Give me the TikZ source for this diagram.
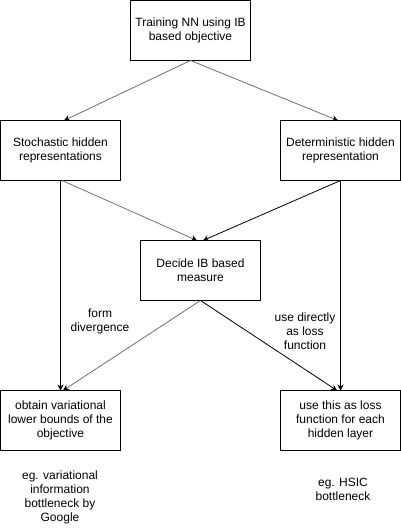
\documentclass[tikz,border=0pt]{standalone}
\usepackage{fontspec}
\setmainfont{Liberation Sans}
\usetikzlibrary{arrows.meta}
\definecolor{lgray}{RGB}{110,110,110}
\begin{document}
\begin{tikzpicture}[x=1pt,y=-1pt,
  box/.style={draw=black,line width=1pt,minimum width=120pt,minimum height=60pt,inner sep=0pt,align=center,font=\fontsize{12}{14}\selectfont},
  lbl/.style={align=center,font=\fontsize{12}{14}\selectfont,inner sep=0pt},
  arr/.style={line width=0.8pt,-{Stealth[length=6pt,width=6pt,black]}},
  garr/.style={arr,draw=lgray},
  barr/.style={arr,draw=black}]
\useasboundingbox (0,0) rectangle (401,531);
\node[box] (top) at (190.5,30.5) {Training NN using IB\\based objective};
\node[box] (sto) at (60.5,150.5) {Stochastic hidden\\representations};
\node[box] (det) at (340.5,150.5) {Deterministic hidden\\representation};
\node[box] (dec) at (200.5,270.5) {Decide IB based\\measure};
\node[box] (obt) at (60.5,420.5) {obtain variational\\lower bounds of the\\objective};
\node[box] (use) at (340.5,420.5) {use this as loss\\function for each\\hidden layer};
\coordinate (topb) at (190.5,60.5);
\coordinate (stot) at (64,120.5);
\coordinate (dett) at (338,120.5);
\coordinate (stob) at (62,180.5);
\coordinate (detb) at (340.5,180.5);
\coordinate (dectl) at (197,240.5);
\coordinate (dectr) at (203,240.5);
\coordinate (decb) at (200.5,300.5);
\coordinate (obtt) at (60.5,390.5);
\coordinate (obtt2) at (63,390.5);
\coordinate (uset) at (340.5,390.5);
\coordinate (uset2) at (337,390.5);
\draw[garr] (topb) -- (stot);
\draw[garr] (topb) -- (dett);
\draw[garr] (stob) -- (dectl);
\draw[barr] (detb) -- (dectr);
\draw[barr] (sto.south) -- (obtt);
\draw[barr] (det.south) -- (uset);
\draw[garr] (decb) -- (obtt2);
\draw[barr] (decb) -- (uset2);
\node[lbl] (fd) at (100,321) {form\\divergence};
\node[lbl] (ud) at (305,331) {use directly\\as loss\\function};
\node[lbl] (eg1) at (60,497) {eg. variational\\information\\bottleneck by\\Google};
\node[lbl] (eg2) at (343,489) {eg. HSIC\\bottleneck};
\end{tikzpicture}
\end{document}
